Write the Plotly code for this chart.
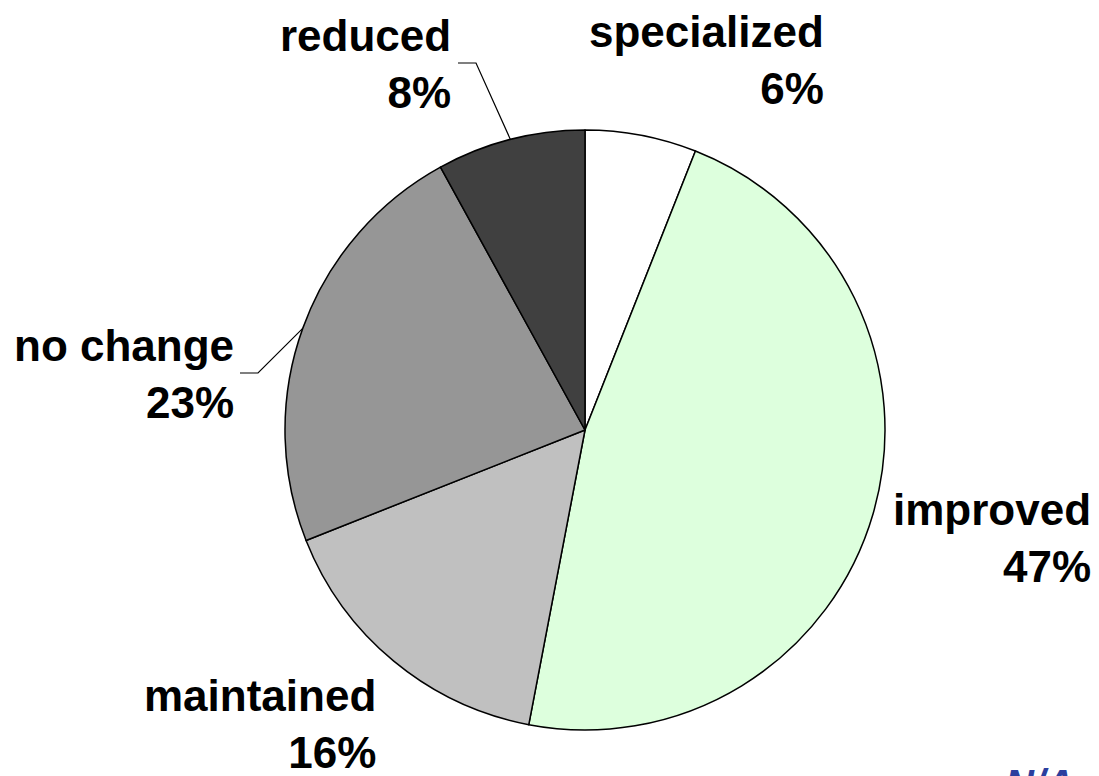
import math
import plotly.graph_objects as go

# Slice data, clockwise from 12 o'clock
categories = ["specialized", "improved", "maintained", "no change", "reduced"]
shares = [6, 47, 16, 23, 8]
slice_colors = ["#FFFFFF", "#DDFFDD", "#C0C0C0", "#969696", "#404040"]

W, H = 1099, 776
CX, CY, R = 585, 430, 300          # pie centre and radius in px

# label anchor: right edge x, vertical centre y (px)
label_pos = {
    "specialized": (826, 60),
    "improved": (1093, 538),
    "maintained": (378, 724),
    "no change": (236, 374),
    "reduced": (453, 64),
}
# leader lines: label-side start x, y, knee x (px)
leaders = {
    "reduced": (458, 63, 476),
    "no change": (240, 373, 258),
}

FONT = "Liberation Sans, Arial, sans-serif"


def px(x):
    return x / W


def py(y):
    return 1 - y / H


fig = go.Figure(
    go.Pie(
        labels=categories,
        values=shares,
        sort=False,
        direction="clockwise",
        rotation=0,
        marker=dict(colors=slice_colors, line=dict(color="#000000", width=1.5)),
        textinfo="none",
        hoverinfo="label+percent",
        domain=dict(x=[px(CX - R), px(CX + R)], y=[py(CY + R), py(CY - R)]),
        showlegend=False,
    )
)

total = sum(shares)
cum = 0
annotations = []
shapes = []
for name, val in zip(categories, shares):
    mid = (cum + val / 2) / total * 2 * math.pi
    cum += val
    lx, ly = label_pos[name]
    annotations.append(
        dict(
            x=px(lx), y=py(ly), xref="paper", yref="paper",
            xanchor="right", yanchor="middle", align="right",
            text=f"{name}<br>{round(val / total * 100)}%",
            showarrow=False,
            font=dict(family=FONT, size=44, color="#000000", weight="bold"),
        )
    )
    if name in leaders:
        sx, sy, kx = leaders[name]
        ex = CX + R * math.sin(mid)
        ey = CY - R * math.cos(mid)
        shapes.append(
            dict(
                type="path", xref="paper", yref="paper",
                path=f"M {px(sx)} {py(sy)} L {px(kx)} {py(sy)} L {px(ex)} {py(ey)}",
                line=dict(color="#000000", width=1.2),
            )
        )

# source note in the lower right corner
annotations.append(
    dict(
        x=px(1003), y=py(760), xref="paper", yref="paper",
        xanchor="left", yanchor="top", align="left",
        text="<b><i>N/A</i></b>", showarrow=False,
        font=dict(family=FONT, size=40, color="#2B3F9E"),
    )
)

fig.update_layout(
    width=W, height=H,
    margin=dict(l=0, r=0, t=0, b=0),
    paper_bgcolor="#FFFFFF",
    plot_bgcolor="#FFFFFF",
    annotations=annotations,
    shapes=shapes,
)

fig.write_html("out.html")
